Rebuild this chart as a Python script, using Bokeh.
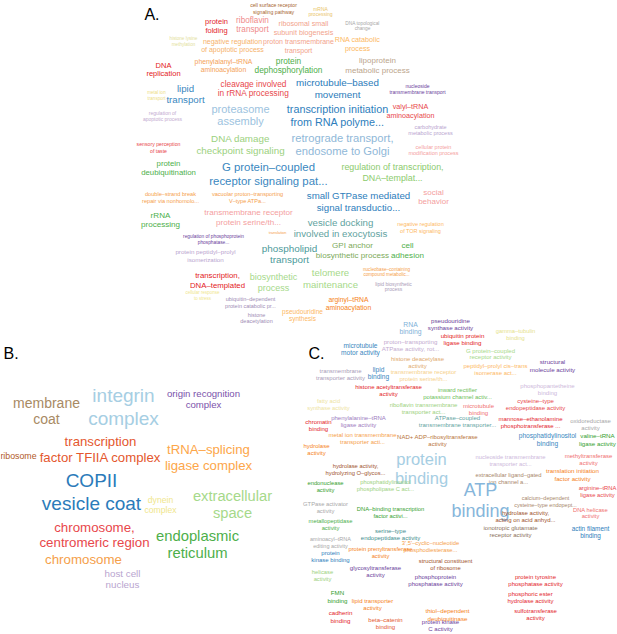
from bokeh.plotting import figure
from bokeh.models import ColumnDataSource, Range1d
from bokeh.embed import file_html
from bokeh.resources import INLINE
from bokeh.core.properties import value

# ---------------- data ----------------
bp_terms = [
    "cell surface receptor\nsignaling pathway", "mRNA\nprocessing", "protein\nfolding",
    "riboflavin\ntransport", "ribosomal small\nsubunit biogenesis", "DNA topological\nchange",
    "histone lysine\nmethylation", "negative regulation\nof apoptotic process",
    "proton transmembrane\ntransport", "RNA catabolic\nprocess", "DNA\nreplication",
    "phenylalanyl–tRNA\naminoacylation", "protein\ndephosphorylation",
    "lipoprotein\nmetabolic process", "metal ion\ntransport", "lipid\ntransport",
    "cleavage involved\nin rRNA processing", "microtubule–based\nmovement",
    "nucleoside\ntransmembrane transport", "regulation of\napoptotic process",
    "proteasome\nassembly", "transcription initiation\nfrom RNA polyme...",
    "valyl–tRNA\naminoacylation", "carbohydrate\nmetabolic process",
    "retrograde transport,\nendosome to Golgi", "cellular protein\nmodification process",
    "DNA damage\ncheckpoint signaling", "sensory perception\nof taste",
    "protein\ndeubiquitination", "G protein–coupled\nreceptor signaling pat...",
    "regulation of transcription,\nDNA–templat...", "double–strand break\nrepair via nonhomolo...",
    "vacuolar proton–transporting\nV–type ATPa...", "small GTPase mediated\nsignal transductio...",
    "social\nbehavior", "rRNA\nprocessing", "transmembrane receptor\nprotein serine/th...",
    "vesicle docking\ninvolved in exocytosis", "negative regulation\nof TOR signaling",
    "translation", "regulation of phosphoprotein\nphosphatase...",
    "protein peptidyl–prolyl\nisomerization", "phospholipid\ntransport",
    "GPI anchor\nbiosynthetic process", "cell\nadhesion", "telomere\nmaintenance",
    "nucleobase–containing\ncompound metabolic...", "lipid biosynthetic\nprocess",
    "transcription,\nDNA–templated", "biosynthetic\nprocess", "cellular response\nto stress",
    "ubiquitin–dependent\nprotein catabolic pr...", "histone\ndeacetylation",
    "pseudouridine\nsynthesis", "arginyl–tRNA\naminoacylation",
]
bp_scores = [52, 50, 75, 82, 72, 48, 46, 70, 70, 72, 75, 68, 83, 80, 45, 97, 83, 98, 50, 50,
             110, 108, 72, 55, 112, 55, 98, 52, 78, 114, 89, 56, 56, 97, 80, 81, 81, 97, 55, 38,
             48, 62, 99, 81, 81, 96, 46, 50, 78, 90, 45, 55, 55, 65, 68]

cc_terms = [
    "membrane\ncoat", "integrin\ncomplex", "origin recognition\ncomplex",
    "transcription\nfactor TFIIA complex", "ribosome", "tRNA–splicing\nligase complex",
    "COPII\nvesicle coat", "dynein\ncomplex", "extracellular\nspace",
    "chromosome,\ncentromeric region", "endoplasmic\nreticulum", "chromosome",
    "host cell\nnucleus",
]
cc_scores = [140, 190, 96, 132, 88, 132, 190, 86, 147, 133, 148, 133, 98]

mf_terms = [
    "RNA\nbinding", "pseudouridine\nsynthase activity", "ubiquitin protein\nligase binding",
    "gamma–tubulin\nbinding", "microtubule\nmotor activity",
    "proton–transporting\nATPase activity, rot...", "G protein–coupled\nreceptor activity",
    "structural\nmolecule activity", "histone deacetylase\nactivity",
    "peptidyl–prolyl cis–trans\nisomerase act...", "transmembrane\ntransporter activity",
    "lipid\nbinding", "transmembrane receptor\nprotein serine/th...",
    "histone acetyltransferase\nactivity", "phosphopantetheine\nbinding",
    "inward rectifier\npotassium channel activ...", "fatty acid\nsynthase activity",
    "riboflavin transmembrane\ntransporter act...", "cysteine–type\nendopeptidase activity",
    "microtubule\nbinding", "oxidoreductase\nactivity", "phenylalanine–tRNA\nligase activity",
    "ATPase–coupled\ntransmembrane transporter...", "mannose–ethanolamine\nphosphotransferase ...",
    "chromatin\nbinding", "metal ion transmembrane\ntransporter acti...",
    "NAD+ ADP–ribosyltransferase\nactivity", "phosphatidylinositol\nbinding",
    "valine–tRNA\nligase activity", "hydrolase\nactivity", "protein\nbinding",
    "nucleoside transmembrane\ntransporter act...", "methyltransferase\nactivity",
    "hydrolase activity,\nhydrolyzing O–glycos...", "extracellular ligand–gated\nion channel a...",
    "translation initiation\nfactor activity", "endonuclease\nactivity",
    "phosphatidylinositol\nphospholipase C act...", "ATP\nbinding",
    "arginine–tRNA\nligase activity", "calcium–dependent\ncysteine–type endopept...",
    "GTPase activator\nactivity", "DNA–binding transcription\nfactor activi...",
    "hydrolase activity,\nacting on acid anhyd...", "DNA helicase\nactivity",
    "metallopeptidase\nactivity", "ionotropic glutamate\nreceptor activity",
    "actin filament\nbinding", "serine–type\nendopeptidase activity",
    "aminoacyl–tRNA\nediting activity", "3',5'–cyclic–nucleotide\nphosphodiesterase...",
    "protein prenyltransferase\nactivity", "protein\nkinase binding",
    "structural constituent\nof ribosome", "glycosyltransferase\nactivity", "helicase\nactivity",
    "phosphoprotein\nphosphatase activity", "protein tyrosine\nphosphatase activity",
    "FMN\nbinding", "phosphoric ester\nhydrolase activity", "lipid transporter\nactivity",
    "thiol–dependent\ndeubiquitinase", "sulfotransferase\nactivity", "cadherin\nbinding",
    "beta–catenin\nbinding", "protein kinase\nC activity",
]
mf_scores = [68, 62, 62, 58, 66, 62, 60, 62, 60, 60, 60, 66, 60, 60, 60, 60, 58, 60, 60, 60,
             60, 60, 60, 60, 60, 60, 60, 66, 62, 60, 165, 58, 60, 58, 58, 62, 58, 58, 180, 58,
             55, 58, 58, 60, 58, 58, 60, 64, 60, 55, 58, 58, 60, 58, 60, 58, 60, 60, 62, 60,
             60, 62, 60, 62, 60, 60]

panel_labels = ["A.", "B.", "C."]

# ---------------- layout / style ----------------
bp_pos = [
    (273, 8), (320, 11), (216, 25.5), (252, 24.5), (303, 27.5), (362, 25.5), (183, 41),
    (232, 45), (298, 45.5), (357, 43.5), (163, 69), (223, 65), (288, 65), (377, 65),
    (156, 95), (185, 93.5), (253, 88), (337, 88), (417, 88.5), (162, 115.5), (240, 114.5),
    (337, 115), (410, 110.5), (430, 129.5), (342, 144), (433, 149.5), (240, 144), (158, 147),
    (168, 167.5), (268, 173.5), (392, 172), (170, 197), (247, 197), (358, 201), (433, 196.5),
    (160, 219.5), (248, 217), (340, 227.5), (420, 227), (277, 232), (213, 239), (205, 255),
    (289, 253.5), (352, 250), (407, 250), (330, 278), (386, 271.5), (393, 286), (217, 280),
    (273, 282), (202, 295), (250, 302), (256, 317.5), (302, 314.5), (348, 303),
]
bp_colors = [
    "#A8662F", "#E9C46A", "#E3242B", "#EF8A8A", "#F2A38C", "#A8A8A8", "#E3E09A", "#F6B26B",
    "#F2A38C", "#FDB863", "#E31A1C", "#F4A259", "#4DAF4A", "#BBA58C", "#EEDC82", "#3A87C0",
    "#E8474B", "#2B7BBA", "#6A3D9A", "#C3ABD0", "#9DC3E0", "#2E7EBC", "#E8474B", "#B9A5CF",
    "#8FB8D8", "#F4A0A0", "#9BD17E", "#E8474B", "#4DAF4A", "#3A87C0", "#8CCB6E", "#F5A04A",
    "#F5A04A", "#2E7EBC", "#F4A0A0", "#4DAF4A", "#F4A0A0", "#5FA3A0", "#FDB863", "#F5A04A",
    "#6A3D9A", "#B9A5CF", "#4C9A9A", "#7DAA5A", "#4DAF4A", "#A6D98A", "#F5A04A", "#A99BB8",
    "#E31A1C", "#A6D98A", "#F0E68C", "#9E8CB5", "#9E8CB5", "#FDB863", "#F58220",
]

cc_pos = [
    (46, 410.5), (123, 406.5), (203, 398.5), (100, 449), (18, 455), (208, 457), (91, 491.5),
    (160, 504.5), (232, 504), (94, 534.5), (197, 544), (83, 559), (122, 578.5),
]
cc_colors = [
    "#A88A64", "#A6CEE3", "#7B52AB", "#E4572E", "#B15928", "#FDA649", "#2B7BBA", "#F0E68C",
    "#A6D98A", "#E8474B", "#4DAF4A", "#F5A04A", "#B9A5CF",
]

mf_pos = [
    (410, 327.5), (450, 323.5), (462, 338.5), (515, 334), (360, 348.5), (410, 344.5),
    (490, 353.5), (552, 365), (417, 362), (495, 369), (340, 374), (378, 372.5), (423, 375),
    (388, 390), (547, 389), (457, 393), (328, 404), (423, 408), (535, 404), (478, 409),
    (590, 424), (358, 421), (457, 421), (530, 422), (318, 425), (362, 438), (437, 440),
    (547, 439), (597, 439), (316, 449), (421, 468), (510, 460), (588, 459), (355, 469),
    (508, 478), (572, 474), (325, 486), (385, 485), (480, 500), (597, 491), (545, 501),
    (325, 507), (390, 512), (525, 516), (590, 512.5), (330, 524), (510, 531), (590, 531.5),
    (390, 534), (330, 542), (430, 546), (380, 552), (330, 556), (445, 564), (375, 571),
    (322, 575), (435, 580), (535, 580), (337, 596), (530, 597), (372, 604), (447, 614),
    (535, 614), (340, 616), (385, 623), (440, 625),
]
mf_colors = [
    "#7FB2D8", "#6A3D9A", "#E31A1C", "#E6E28A", "#3A87C0", "#C3ABD0", "#A6D98A", "#6A3D9A",
    "#E0A96D", "#FDB863", "#A99BB8", "#3A87C0", "#F6D08A", "#E31A1C", "#CDB8DB", "#6DBE5A",
    "#EEE3A0", "#9BD17E", "#E8474B", "#F07070", "#A8A8A8", "#9E7CC0", "#5FA3A0", "#E3242B",
    "#E31A1C", "#F5A04A", "#B8733A", "#3A87C0", "#33A02C", "#F58220", "#A6CEE3", "#CDB8DB",
    "#F07070", "#A0522D", "#A8866A", "#F58220", "#33A02C", "#9BD17E", "#86B6DB", "#E8474B",
    "#A8866A", "#A8A8A8", "#33A02C", "#A0522D", "#F07070", "#4DAF4A", "#8B6F5A", "#2E7EBC",
    "#3E8E8E", "#A8A8A8", "#F5A04A", "#F58220", "#2E7EBC", "#A0522D", "#6A3D9A", "#9BD17E",
    "#6A3D9A", "#E3242B", "#33A02C", "#E3242B", "#F58220", "#F58220", "#E3242B", "#E3242B",
    "#E4572E", "#6A3D9A",
]

label_pos = [(159, 14, "right"), (3, 353, "left"), (308, 353, "left")]

FONT = "Liberation Sans"
LINE_H = 1.16
W, H = 617, 634


def build(terms, scores, pos, colors):
    xs, ys, txt, sz, col = [], [], [], [], []
    for t, s, (x, y), c in zip(terms, scores, pos, colors):
        fs = s / 10.0
        lines = t.split("\n")
        n = len(lines)
        for i, ln in enumerate(lines):
            xs.append(x)
            ys.append(y + (i - (n - 1) / 2) * fs * LINE_H)
            txt.append(ln)
            sz.append(f"{fs:.2f}px")
            col.append(c)
    return ColumnDataSource(dict(x=xs, y=ys, text=txt, size=sz, color=col))


p = figure(width=W, height=H, x_range=Range1d(0, W), y_range=Range1d(H, 0),
           output_backend="svg", toolbar_location=None, min_border=0,
           x_axis_type=None, y_axis_type=None)
p.grid.visible = False
p.outline_line_color = None
p.background_fill_color = "white"

for terms, scores, pos, colors in [(bp_terms, bp_scores, bp_pos, bp_colors),
                                   (cc_terms, cc_scores, cc_pos, cc_colors),
                                   (mf_terms, mf_scores, mf_pos, mf_colors)]:
    src = build(terms, scores, pos, colors)
    p.text(x="x", y="y", text="text", source=src, text_font_size="size",
           text_color="color", text_align="center", text_baseline="middle",
           text_font=value(FONT))

for lab, (x, y, al) in zip(panel_labels, label_pos):
    p.text(x=[x], y=[y], text=[lab], text_font_size="16px", text_color="black",
           text_align=al, text_baseline="alphabetic", text_font=value(FONT))

open("out.html", "w").write(file_html(p, INLINE))
